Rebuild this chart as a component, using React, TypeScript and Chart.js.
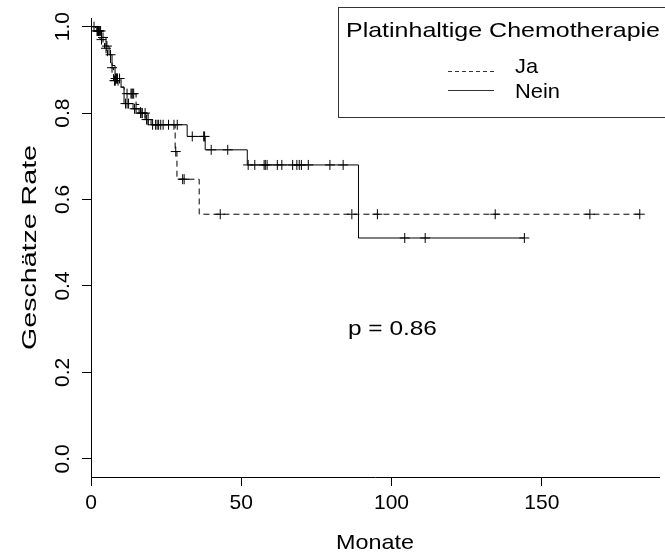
import React, { useEffect, useRef } from "react";
import { Chart, registerables } from "chart.js";

Chart.register(...registerables);

// ---- Data ----
// "Ja" group (dashed): event times (months) and survival after each event
const jaTimes = [1.5, 3, 4.5, 5.5, 6.5, 7.5, 9, 11, 15, 16.5, 19, 28, 28.6, 36];
const jaSurv = [0.99, 0.97, 0.95, 0.93, 0.905, 0.875, 0.86, 0.845, 0.82, 0.8, 0.773, 0.711, 0.647, 0.566];
const jaCensor = [
  2, 2.5, 3.5, 5, 7, 7.8, 8.1, 12, 13.3, 13.6, 13.9, 14.2, 17, 18, 22, 24, 28.2, 30.5, 31, 43, 86.8, 95.3,
  134.5, 166, 182.6,
];

// "Nein" group (solid)
const neinTimes = [2, 3.5, 5, 6, 7, 8, 10, 11, 14, 16, 18, 20, 32, 38, 52, 89];
const neinSurv = [0.99, 0.975, 0.955, 0.935, 0.91, 0.88, 0.86, 0.822, 0.81, 0.8, 0.785, 0.773, 0.746, 0.715, 0.68, 0.511];
const neinCensor = [
  1, 2.2, 2.5, 2.8, 3.2, 4, 5.3, 6.5, 8.2, 8.4, 8.6, 8.8, 9.5, 11.5, 12, 12.5, 14.5, 15, 16.5, 17, 18.5, 19,
  20.5, 21.5, 22.5, 23.2, 25.8, 27.6, 28.7, 33.7, 37.5, 37.8, 40, 45.5, 52.3, 54.5, 57.6, 58, 58.6, 62, 63.5,
  67.1, 68.5, 69.3, 70, 72.3, 79.5, 83.9, 104.4, 111.2, 144.2,
];

const xTicks = [0, 50, 100, 150];
const yTicks = [0, 0.2, 0.4, 0.6, 0.8, 1.0];
const xTitle = "Monate";
const yTitle = "Geschätze Rate";
const legendTitle = "Platinhaltige Chemotherapie";
const groupLabels = ["Ja", "Nein"];
const pValueText = "p = 0.86";

const FONT = "'Liberation Sans', Arial, Helvetica, sans-serif";

function survAt(times: number[], surv: number[], t: number) {
  let s = 1;
  for (let i = 0; i < times.length; i++) if (times[i] <= t) s = surv[i];
  return s;
}

function stepPoints(times: number[], surv: number[], censor: number[]) {
  const pts = [{ x: 0, y: 1 }];
  times.forEach((t, i) => pts.push({ x: t, y: surv[i] }));
  const lastT = Math.max(times[times.length - 1], ...censor);
  pts.push({ x: lastT, y: surv[surv.length - 1] });
  return pts;
}

function censorPoints(times: number[], surv: number[], censor: number[]) {
  return censor.map((t) => ({ x: t, y: survAt(times, surv, t) }));
}

// draw text horizontally stretched to a target width (left-aligned at x, or centred)
function fitText(ctx: CanvasRenderingContext2D, text: string, x: number, y: number, w: number, centred: boolean, rot = 0) {
  const m = ctx.measureText(text).width;
  ctx.save();
  ctx.translate(x, y);
  if (rot) ctx.rotate(rot);
  ctx.scale(w / m, 1);
  ctx.textAlign = centred ? "center" : "left";
  ctx.textBaseline = "middle";
  ctx.fillText(text, 0, 0);
  ctx.restore();
}

const overlay = {
  id: "overlay",
  afterDraw(chart: any) {
    const ctx = chart.ctx;
    const y = chart.scales.y;
    const x = chart.scales.x;
    const area = chart.chartArea;
    ctx.save();
    ctx.fillStyle = "#000";
    // rotated y tick labels
    ctx.font = `21px ${FONT}`;
    ctx.textAlign = "center";
    ctx.textBaseline = "middle";
    yTicks.forEach((v) => {
      const py = y.getPixelForValue(v);
      ctx.save();
      ctx.translate(63, py);
      ctx.rotate(-Math.PI / 2);
      ctx.fillText(v.toFixed(1), 0, 0);
      ctx.restore();
    });

    // axis titles
    ctx.font = `21px ${FONT}`;
    fitText(ctx, xTitle, (area.left + area.right) / 2, 543, 78, true);
    fitText(ctx, yTitle, 30, (area.top + area.bottom) / 2, 205, true, -Math.PI / 2);

    // p value
    ctx.font = `21px ${FONT}`;
    fitText(ctx, pValueText, x.getPixelForValue(85.5), y.getPixelForValue(0.3), 89, false);

    // legend box
    ctx.strokeStyle = "#333";
    ctx.lineWidth = 1;
    ctx.strokeRect(338.5, 7.5, 400, 110);
    ctx.font = `21px ${FONT}`;
    fitText(ctx, legendTitle, 346, 31, 314, false);
    // Ja (dashed)
    ctx.beginPath();
    ctx.setLineDash([4, 3]);
    ctx.moveTo(448, 71.5);
    ctx.lineTo(494, 71.5);
    ctx.stroke();
    ctx.setLineDash([]);
    fitText(ctx, groupLabels[0], 515, 67, 23, false);
    // Nein (solid)
    ctx.beginPath();
    ctx.moveTo(448, 90.5);
    ctx.lineTo(494, 90.5);
    ctx.stroke();
    fitText(ctx, groupLabels[1], 515, 92, 45, false);
    ctx.restore();
  },
};

export default function App() {
  const ref = useRef<HTMLCanvasElement>(null);
  useEffect(() => {
    if (!ref.current) return;
    const chart = new Chart(ref.current, {
      type: "line",
      data: {
        datasets: [
          {
            label: groupLabels[0],
            data: stepPoints(jaTimes, jaSurv, jaCensor),
            borderColor: "#000",
            borderWidth: 1,
            borderDash: [6, 4],
            pointRadius: 0,
            stepped: true,
          },
          {
            label: groupLabels[1],
            data: stepPoints(neinTimes, neinSurv, neinCensor),
            borderColor: "#000",
            borderWidth: 1,
            pointRadius: 0,
            stepped: true,
          },
          {
            label: groupLabels[0] + " zensiert",
            data: censorPoints(jaTimes, jaSurv, jaCensor),
            showLine: false,
            pointStyle: "cross",
            pointRadius: 5,
            pointBorderColor: "#000",
            pointBorderWidth: 1,
            borderColor: "#000",
          },
          {
            label: groupLabels[1] + " zensiert",
            data: censorPoints(neinTimes, neinSurv, neinCensor),
            showLine: false,
            pointStyle: "cross",
            pointRadius: 5,
            pointBorderColor: "#000",
            pointBorderWidth: 1,
            borderColor: "#000",
          },
        ],
      },
      options: {
        animation: false,
        responsive: false,
        events: [],
        layout: { padding: { left: 0, right: 0, top: 18, bottom: 0 } },
        plugins: { legend: { display: false }, tooltip: { enabled: false } },
        scales: {
          x: {
            type: "linear",
            min: 0,
            max: 189,
            afterBuildTicks: (s: any) => {
              s.ticks = xTicks.map((v) => ({ value: v }));
            },
            afterFit: (s: any) => {
              s.height = 76;
            },
            grid: { display: true, drawOnChartArea: false, drawTicks: true, tickLength: 9, color: "#000" },
            border: { display: true, color: "#000", width: 1 },
            ticks: { color: "#000", font: { family: FONT, size: 21 }, padding: 5, maxRotation: 0 },
            title: { display: false },
          },
          y: {
            type: "linear",
            min: -0.042,
            max: 1.02,
            afterBuildTicks: (s: any) => {
              s.ticks = yTicks.map((v) => ({ value: v }));
            },
            afterFit: (s: any) => {
              s.width = 91;
            },
            grid: { display: true, drawOnChartArea: false, drawTicks: true, tickLength: 9, color: "#000" },
            border: { display: true, color: "#000", width: 1 },
            ticks: { display: false },
            title: { display: false },
          },
        },
      },
      plugins: [overlay],
    });
    return () => chart.destroy();
  }, []);
  return (
    <div style={{ position: "absolute", left: 0, top: 0, width: 665, height: 553, background: "#fff" }}>
      <canvas ref={ref} width={665} height={553} style={{ width: 665, height: 553 }} />
    </div>
  );
}
